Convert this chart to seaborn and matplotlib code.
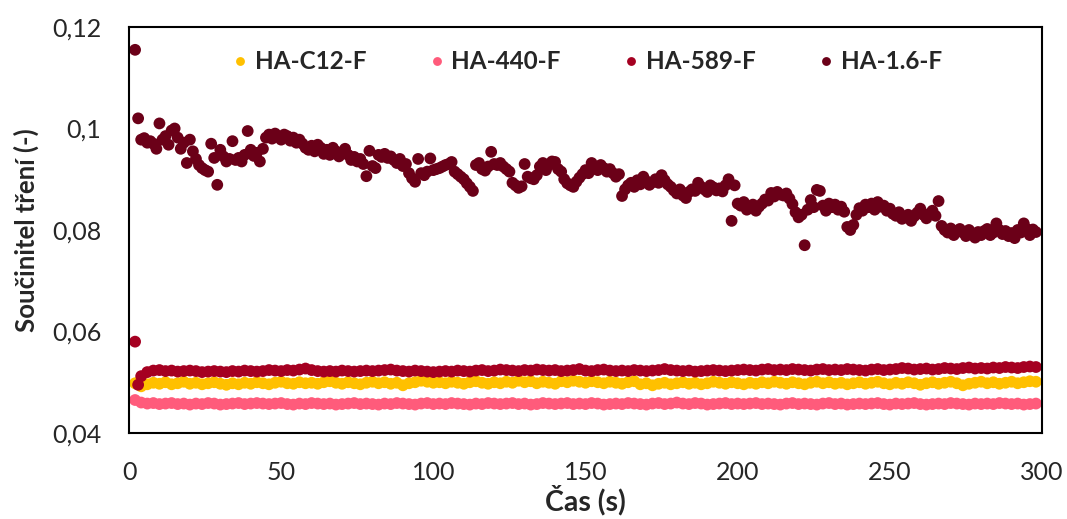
import numpy as np
import pandas as pd
import matplotlib
matplotlib.use("Agg")
import matplotlib.pyplot as plt
import seaborn as sns
from matplotlib.ticker import FuncFormatter, MultipleLocator

# -----------------------------
# Data
# -----------------------------
series_names = ["HA-C12-F", "HA-440-F", "HA-589-F", "HA-1.6-F"]
series_colors = ["#FFC000", "#FF5B7B", "#A50021", "#6B0018"]

t_c12 = np.arange(2, 299, 2)
c12 = [0.0498, 0.0492, 0.0496, 0.0499, 0.0497, 0.0500, 0.0496, 0.0498, 0.0501, 0.0497,
       0.0499, 0.0496, 0.0498, 0.0500, 0.0497, 0.0495, 0.0498, 0.0496, 0.0499, 0.0497,
       0.0500, 0.0498, 0.0496, 0.0499, 0.0501, 0.0498, 0.0497, 0.0500, 0.0498, 0.0499,
       0.0497, 0.0500, 0.0502, 0.0499, 0.0497, 0.0500, 0.0498, 0.0496, 0.0499, 0.0501,
       0.0498, 0.0500, 0.0497, 0.0499, 0.0494, 0.0498, 0.0500, 0.0503, 0.0501, 0.0499,
       0.0500, 0.0498, 0.0501, 0.0499, 0.0497, 0.0500, 0.0502, 0.0499, 0.0497, 0.0500,
       0.0498, 0.0501, 0.0499, 0.0503, 0.0500, 0.0502, 0.0498, 0.0501, 0.0499, 0.0497,
       0.0502, 0.0500, 0.0503, 0.0501, 0.0499, 0.0502, 0.0500, 0.0498, 0.0501, 0.0499,
       0.0497, 0.0500, 0.0502, 0.0496, 0.0498, 0.0494, 0.0497, 0.0499, 0.0496, 0.0498,
       0.0500, 0.0497, 0.0499, 0.0496, 0.0498, 0.0501, 0.0499, 0.0497, 0.0500, 0.0498,
       0.0496, 0.0499, 0.0497, 0.0500, 0.0498, 0.0501, 0.0499, 0.0497, 0.0500, 0.0498,
       0.0496, 0.0499, 0.0501, 0.0498, 0.0500, 0.0497, 0.0499, 0.0496, 0.0498, 0.0500,
       0.0497, 0.0499, 0.0501, 0.0498, 0.0496, 0.0499, 0.0497, 0.0500, 0.0498, 0.0495,
       0.0498, 0.0500, 0.0497, 0.0499, 0.0501, 0.0498, 0.0494, 0.0497, 0.0499, 0.0501,
       0.0498, 0.0500, 0.0497, 0.0499, 0.0501, 0.0498, 0.0500, 0.0502, 0.0501]

t_440 = np.arange(2, 299, 2)
ha440 = [0.0465, 0.0460, 0.0458, 0.0459, 0.0457, 0.0458, 0.0459, 0.0457, 0.0458, 0.0456,
         0.0458, 0.0457, 0.0459, 0.0458, 0.0456, 0.0457, 0.0458, 0.0459, 0.0457, 0.0458,
         0.0459, 0.0458, 0.0457, 0.0458, 0.0459, 0.0457, 0.0456, 0.0458, 0.0457, 0.0459,
         0.0458, 0.0457, 0.0458, 0.0456, 0.0457, 0.0458, 0.0459, 0.0457, 0.0458, 0.0457,
         0.0456, 0.0458, 0.0457, 0.0459, 0.0458, 0.0457, 0.0456, 0.0458, 0.0459, 0.0457,
         0.0458, 0.0457, 0.0459, 0.0458, 0.0457, 0.0456, 0.0458, 0.0457, 0.0459, 0.0458,
         0.0457, 0.0458, 0.0459, 0.0457, 0.0458, 0.0456, 0.0457, 0.0459, 0.0458, 0.0457,
         0.0458, 0.0459, 0.0457, 0.0458, 0.0457, 0.0459, 0.0458, 0.0456, 0.0457, 0.0458,
         0.0457, 0.0459, 0.0458, 0.0457, 0.0456, 0.0458, 0.0459, 0.0457, 0.0458, 0.0460,
         0.0458, 0.0457, 0.0459, 0.0458, 0.0456, 0.0457, 0.0458, 0.0459, 0.0457, 0.0458,
         0.0457, 0.0458, 0.0459, 0.0457, 0.0458, 0.0457, 0.0456, 0.0458, 0.0459, 0.0457,
         0.0458, 0.0457, 0.0456, 0.0458, 0.0459, 0.0457, 0.0458, 0.0456, 0.0457, 0.0458,
         0.0457, 0.0458, 0.0459, 0.0457, 0.0456, 0.0458, 0.0457, 0.0458, 0.0459, 0.0457,
         0.0456, 0.0457, 0.0458, 0.0457, 0.0459, 0.0458, 0.0457, 0.0456, 0.0458, 0.0457,
         0.0458, 0.0457, 0.0459, 0.0458, 0.0457, 0.0458, 0.0456, 0.0457, 0.0458]

t_589 = np.r_[2, 3, np.arange(4, 299, 2)]
ha589 = [0.0580, 0.0495, 0.0512, 0.0520, 0.0523, 0.0524, 0.0522, 0.0523, 0.0521, 0.0522,
         0.0523, 0.0522, 0.0520, 0.0521, 0.0522, 0.0521, 0.0520, 0.0522, 0.0521, 0.0523,
         0.0522, 0.0521, 0.0522, 0.0524, 0.0523, 0.0522, 0.0524, 0.0523, 0.0525, 0.0527,
         0.0524, 0.0522, 0.0521, 0.0522, 0.0521, 0.0523, 0.0522, 0.0521, 0.0522, 0.0523,
         0.0522, 0.0523, 0.0524, 0.0525, 0.0523, 0.0522, 0.0521, 0.0523, 0.0522, 0.0521,
         0.0520, 0.0521, 0.0522, 0.0521, 0.0523, 0.0522, 0.0521, 0.0523, 0.0524, 0.0522,
         0.0523, 0.0525, 0.0524, 0.0523, 0.0522, 0.0524, 0.0523, 0.0525, 0.0524, 0.0523,
         0.0524, 0.0522, 0.0523, 0.0524, 0.0526, 0.0523, 0.0522, 0.0524, 0.0525, 0.0523,
         0.0522, 0.0523, 0.0522, 0.0524, 0.0523, 0.0522, 0.0523, 0.0524, 0.0526, 0.0524,
         0.0523, 0.0522, 0.0523, 0.0521, 0.0522, 0.0523, 0.0524, 0.0523, 0.0522, 0.0523,
         0.0524, 0.0525, 0.0524, 0.0523, 0.0525, 0.0526, 0.0524, 0.0525, 0.0524, 0.0526,
         0.0525, 0.0524, 0.0523, 0.0525, 0.0526, 0.0524, 0.0525, 0.0524, 0.0526, 0.0525,
         0.0524, 0.0523, 0.0525, 0.0526, 0.0524, 0.0525, 0.0526, 0.0528, 0.0527, 0.0525,
         0.0526, 0.0527, 0.0525, 0.0526, 0.0528, 0.0527, 0.0526, 0.0528, 0.0529, 0.0527,
         0.0528, 0.0527, 0.0529, 0.0528, 0.0530, 0.0529, 0.0528, 0.0530, 0.0531, 0.0530]

t_16 = np.arange(2, 299)
ha16 = [0.1155, 0.1020, 0.0978, 0.0981, 0.0972, 0.0975, 0.0970, 0.0960, 0.1010, 0.0978,
        0.0985, 0.0968, 0.0996, 0.1000, 0.0982, 0.0960, 0.0972, 0.0932, 0.0978, 0.0955,
        0.0940, 0.0928, 0.0922, 0.0918, 0.0915, 0.0970, 0.0942, 0.0889, 0.0958, 0.0945,
        0.0935, 0.0940, 0.0975, 0.0938, 0.0942, 0.0935, 0.0948, 0.0995, 0.0958, 0.0946,
        0.0952, 0.0935, 0.0960, 0.0982, 0.0988, 0.0980, 0.0990, 0.0984, 0.0978, 0.0988,
        0.0985, 0.0976, 0.0982, 0.0972, 0.0978, 0.0970, 0.0962, 0.0958, 0.0966, 0.0955,
        0.0968, 0.0962, 0.0950, 0.0958, 0.0948, 0.0962, 0.0955, 0.0945, 0.0952, 0.0960,
        0.0948, 0.0938, 0.0944, 0.0935, 0.0940, 0.0930, 0.0906, 0.0956, 0.0926, 0.0922,
        0.0948, 0.0944, 0.0950, 0.0942, 0.0945, 0.0938, 0.0932, 0.0940, 0.0926, 0.0930,
        0.0912, 0.0902, 0.0895, 0.0940, 0.0912, 0.0908, 0.0915, 0.0941, 0.0918, 0.0920,
        0.0922, 0.0925, 0.0928, 0.0930, 0.0934, 0.0915, 0.0910, 0.0905, 0.0900, 0.0892,
        0.0885, 0.0877, 0.0928, 0.0932, 0.0920, 0.0917, 0.0925, 0.0954, 0.0930, 0.0928,
        0.0932, 0.0925, 0.0920, 0.0915, 0.0893, 0.0888, 0.0883, 0.0886, 0.0930, 0.0905,
        0.0902, 0.0900, 0.0908, 0.0925, 0.0932, 0.0918, 0.0928, 0.0935, 0.0934, 0.0920,
        0.0915, 0.0900, 0.0892, 0.0888, 0.0885, 0.0895, 0.0903, 0.0910, 0.0918, 0.0912,
        0.0932, 0.0925, 0.0918, 0.0928, 0.0922, 0.0915, 0.0920, 0.0912, 0.0905, 0.0910,
        0.0867, 0.0880, 0.0888, 0.0893, 0.0885, 0.0898, 0.0890, 0.0905, 0.0896, 0.0889,
        0.0894, 0.0900, 0.0893, 0.0908, 0.0898, 0.0890, 0.0885, 0.0878, 0.0872, 0.0880,
        0.0868, 0.0863, 0.0875, 0.0880, 0.0877, 0.0893, 0.0885, 0.0880, 0.0875, 0.0888,
        0.0884, 0.0878, 0.0882, 0.0876, 0.0888, 0.0900, 0.0818, 0.0888, 0.0852, 0.0848,
        0.0855, 0.0840, 0.0845, 0.0850, 0.0838, 0.0846, 0.0852, 0.0860, 0.0858, 0.0873,
        0.0866, 0.0875, 0.0870, 0.0868, 0.0872, 0.0862, 0.0851, 0.0835, 0.0825, 0.0830,
        0.0770, 0.0840, 0.0859, 0.0845, 0.0879, 0.0877, 0.0848, 0.0838, 0.0852, 0.0845,
        0.0850, 0.0840, 0.0846, 0.0836, 0.0806, 0.0800, 0.0810, 0.0830, 0.0843, 0.0838,
        0.0850, 0.0845, 0.0852, 0.0840, 0.0855, 0.0846, 0.0848, 0.0838, 0.0842, 0.0832,
        0.0828, 0.0835, 0.0822, 0.0825, 0.0830, 0.0818, 0.0827, 0.0834, 0.0842, 0.0830,
        0.0823, 0.0832, 0.0838, 0.0828, 0.0857, 0.0808, 0.0800, 0.0795, 0.0803, 0.0790,
        0.0798, 0.0802, 0.0795, 0.0788, 0.0800, 0.0793, 0.0785, 0.0796, 0.0790, 0.0798,
        0.0802, 0.0790, 0.0795, 0.0813, 0.0800, 0.0792, 0.0798, 0.0788, 0.0794, 0.0784,
        0.0800, 0.0795, 0.0813, 0.0802, 0.0790, 0.0801, 0.0796]

# -----------------------------
# Long table for seaborn
# -----------------------------
frames = []
for name, t, v in zip(series_names, [t_c12, t_440, t_589, t_16], [c12, ha440, ha589, ha16]):
    frames.append(pd.DataFrame({"Cas": t, "Treni": v, "Vzorek": name}))
df = pd.concat(frames, ignore_index=True)

# -----------------------------
# Plot
# -----------------------------
sns.set_style("white")
plt.rcParams["font.family"] = ["Lato", "DejaVu Sans"]

fig = plt.figure(figsize=(10.67, 5.19), dpi=100)
ax = fig.add_axes([0.1209, 0.1657, 0.8557, 0.7823])

sns.scatterplot(data=df, x="Cas", y="Treni", hue="Vzorek", hue_order=series_names,
                palette=series_colors, s=72, linewidth=0, alpha=1, ax=ax, legend=True)

ax.set_xlim(0, 300)
ax.set_ylim(0.04, 0.12)
ax.xaxis.set_major_locator(MultipleLocator(50))
ax.yaxis.set_major_locator(MultipleLocator(0.02))
ax.yaxis.set_major_formatter(FuncFormatter(lambda v, p: f"{v:.2f}".rstrip("0").replace(".", ",")))
ax.tick_params(axis="both", length=0, labelsize=18)
ax.tick_params(axis="y", pad=20)
ax.tick_params(axis="x", pad=20)

for sp in ax.spines.values():
    sp.set_color("black")
    sp.set_linewidth(1.5)

ax.set_xlabel("Čas (s)", fontsize=20.5, fontweight="bold", labelpad=1)
ax.set_ylabel("Součinitel tření (-)", fontsize=18.5, fontweight="bold", labelpad=9)

ax.legend(loc="center", bbox_to_anchor=(0.502, 0.914), ncol=4, frameon=False,
          prop={"size": 17.5, "weight": "bold"}, handlelength=0.6, handletextpad=0.3,
          columnspacing=2.6, markerscale=0.75)

fig.savefig("out.png", dpi=100)
